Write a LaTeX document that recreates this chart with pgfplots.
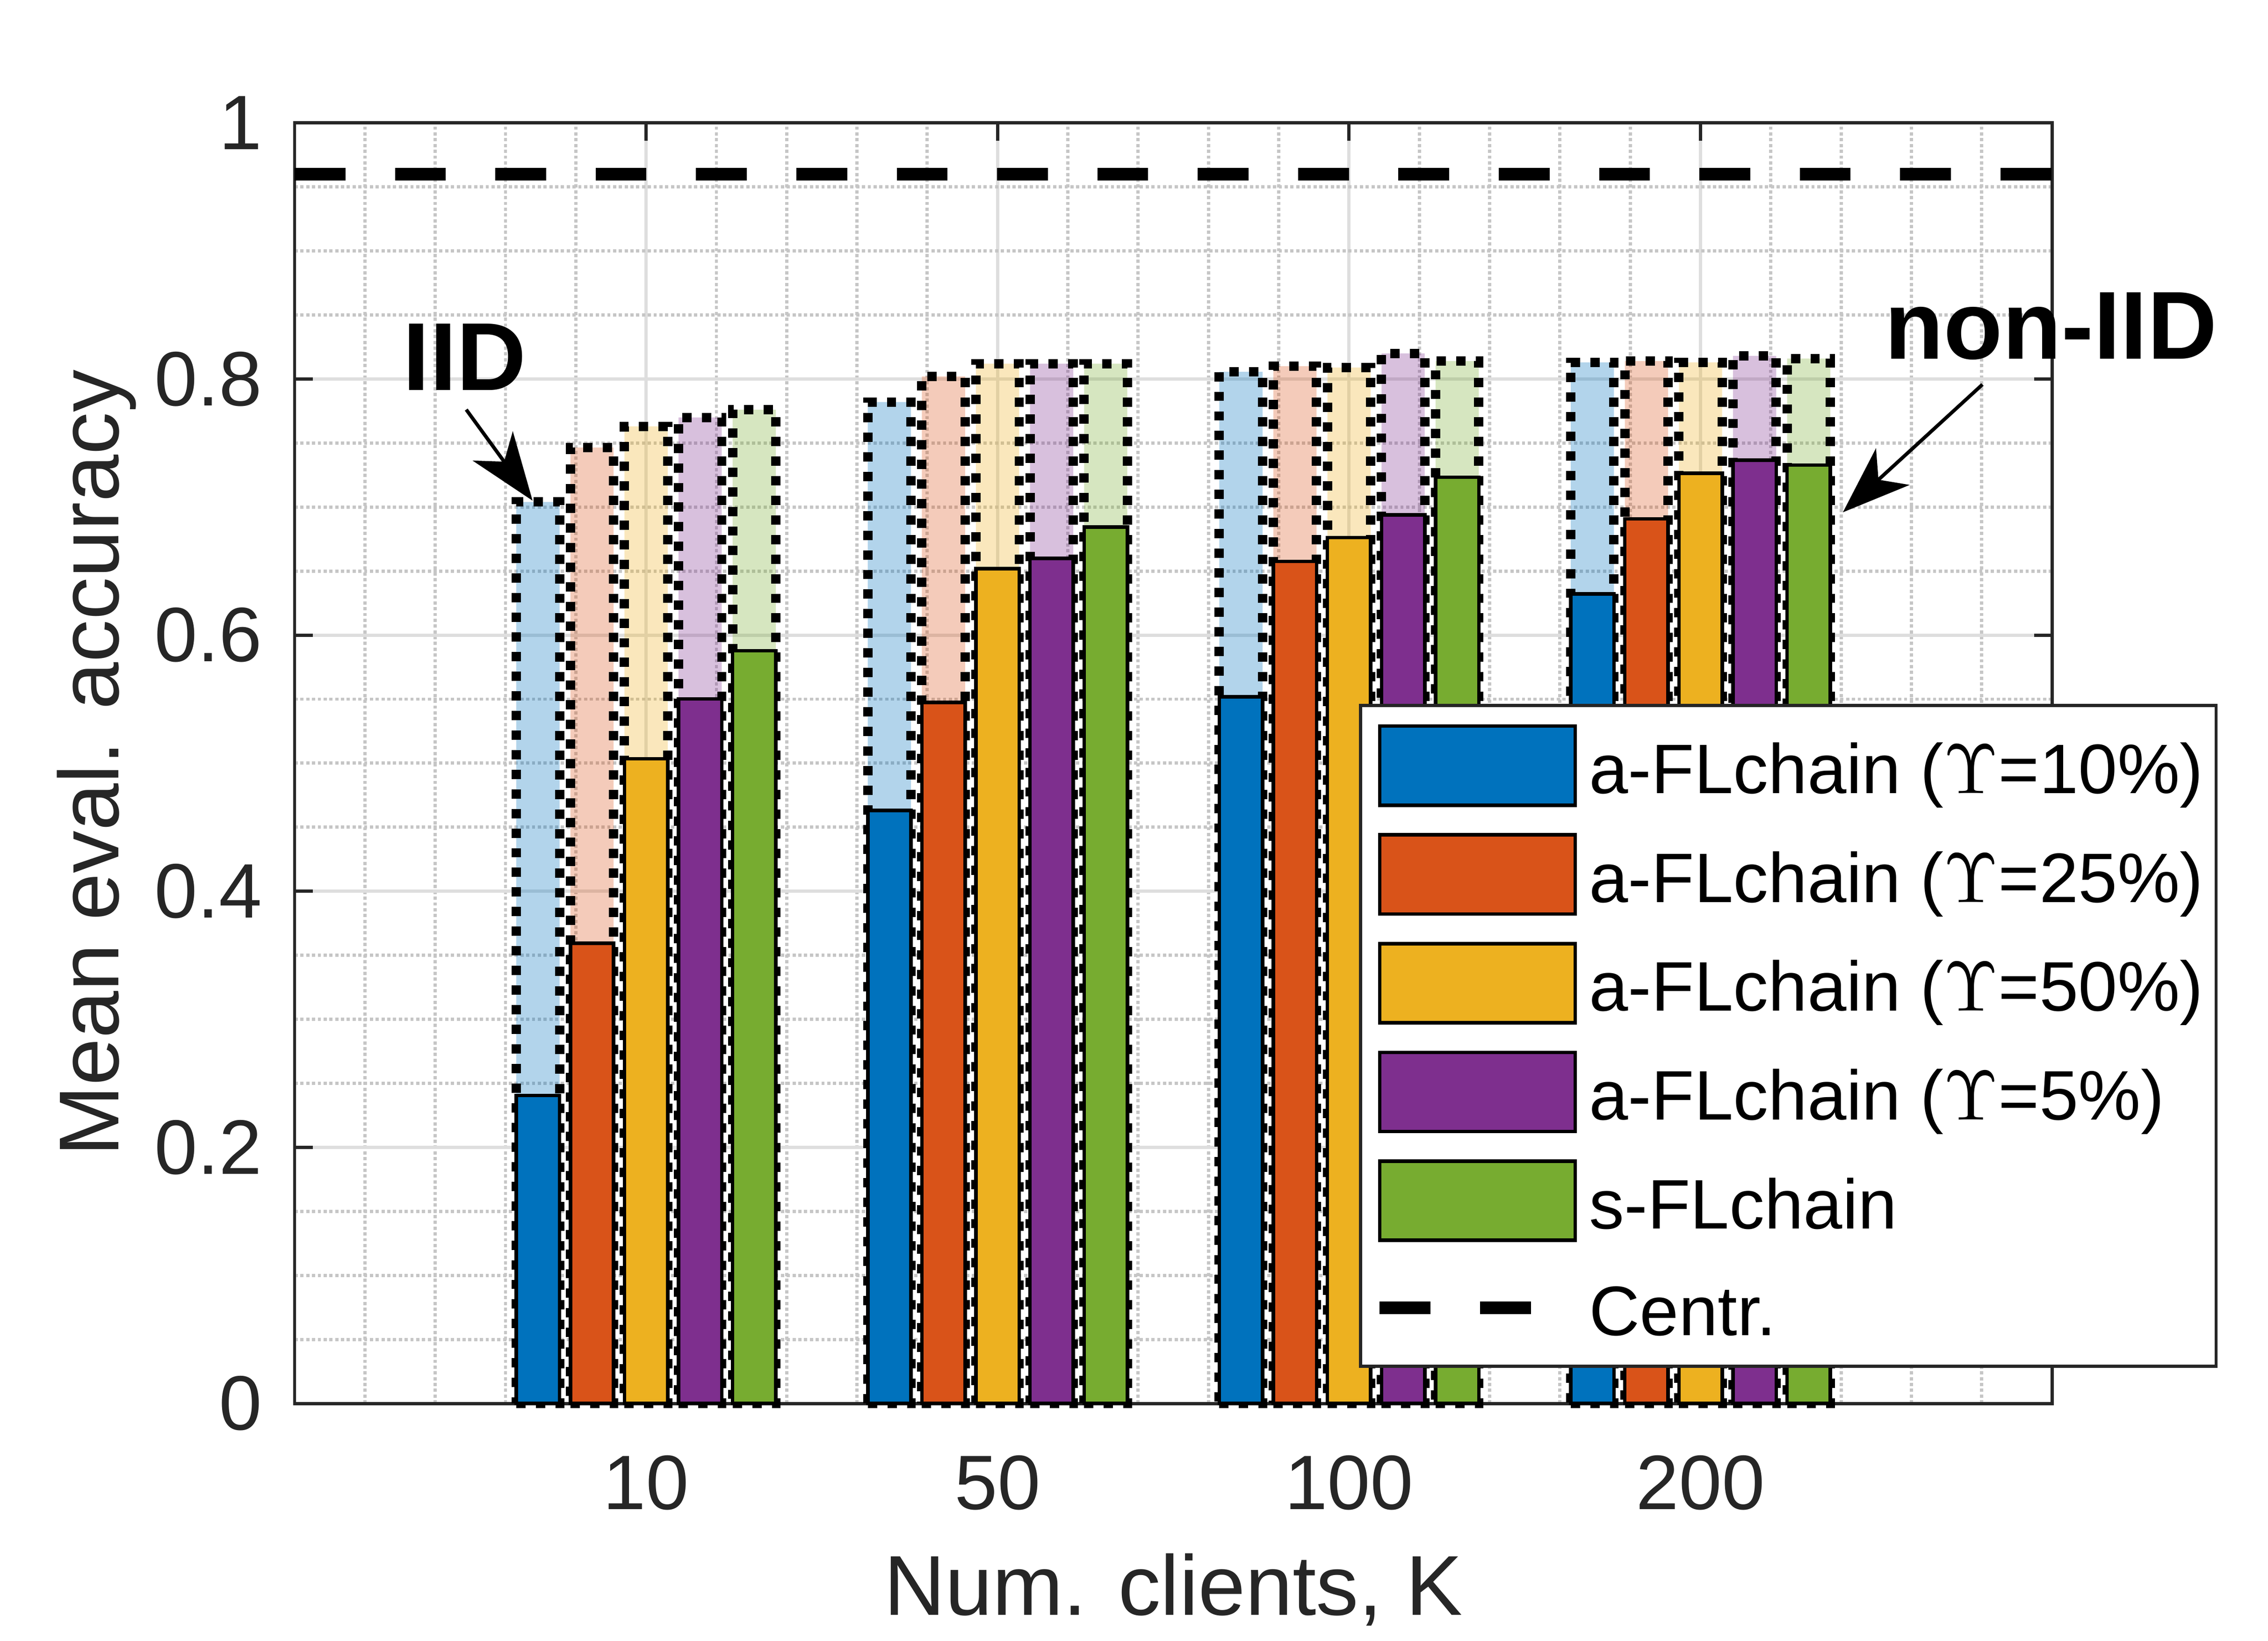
\documentclass[border=0pt]{standalone}
\usepackage{fontspec}
\setmainfont{Liberation Sans}
\usepackage{pgfplots}
\usepackage{pgfplotstable}
\pgfplotsset{compat=1.18}
\usetikzlibrary{arrows.meta}
\definecolor{c1}{HTML}{0072BD}
\definecolor{c2}{HTML}{D95319}
\definecolor{c3}{HTML}{EDB120}
\definecolor{c4}{HTML}{7E2F8E}
\definecolor{c5}{HTML}{77AC30}
\definecolor{axgray}{HTML}{262626}
\definecolor{majgrid}{HTML}{DEDEDE}
\definecolor{mingrid}{HTML}{C6C6C6}

% x: 0=10, 1=50, 2=100, 3=200 clients
\pgfplotstableread{
x   iidA   iidB   iidC   iidD   iidE   nA     nB     nC     nD     nE
0   0.704  0.7465 0.763  0.770  0.776  0.2405 0.3593 0.5034 0.5502 0.5878
1   0.782  0.802  0.812  0.812  0.812  0.4631 0.5474 0.6519 0.6599 0.6844
2   0.8056 0.810  0.809  0.820  0.814  0.5518 0.6575 0.6761 0.6939 0.7232
3   0.813  0.814  0.813  0.818  0.816  0.6321 0.6907 0.7264 0.7367 0.7327
}\datatable

\pgfplotsset{
  lightbar/.style={ybar, bar width=0.123, fill=#1, fill opacity=0.3,
    draw=black, draw opacity=1, line width=1.45pt,
    dash pattern=on 1.45pt off 1.6pt, forget plot},
  darkbar/.style={ybar, bar width=0.123, fill=#1, draw=black, line width=0.55pt,
    legend image code/.code={\draw[##1] (0pt,-6.15pt) rectangle (30.4pt,6.15pt);}},
  dashleg/.style={legend image code/.code={\draw[##1] (0pt,0pt) -- (23.6pt,0pt);}},
}

\begin{document}
\begin{tikzpicture}
\useasboundingbox (-45.80pt,-36.86pt) rectangle (306.79pt,218.17pt);
\begin{axis}[
  at={(0,0)}, anchor=south west,
  scale only axis, width=273.21pt, height=199.07pt,
  xmin=-1, xmax=4, ymin=0, ymax=1,
  xtick={0,1,2,3}, xticklabels={10,50,100,200},
  minor xtick={-0.8,-0.6,-0.4,-0.2,0.2,0.4,0.6,0.8,1.2,1.4,1.6,1.8,2.2,2.4,2.6,2.8,3.2,3.4,3.6,3.8},
  ytick={0,0.2,0.4,0.6,0.8,1},
  minor ytick={0.05,0.1,0.15,0.25,0.3,0.35,0.45,0.5,0.55,0.65,0.7,0.75,0.85,0.9,0.95},
  grid=both,
  major grid style={majgrid, line width=0.5pt},
  minor grid style={mingrid, line width=0.5pt, dash pattern=on 0.5pt off 0.4pt},
  axis line style={axgray, line width=0.5pt},
  tick style={axgray, line width=0.5pt},
  major tick length=2.8pt, minor tick length=0pt,
  tick align=inside,
  tick label style={font=\fontsize{12}{14}\selectfont, text=axgray, inner sep=0pt},
  /pgf/number format/assume math mode=true,
  xticklabel shift=7.9pt, yticklabel shift=4.9pt,
  xlabel={Num. clients, K}, ylabel={Mean eval. accuracy},
  label style={font=\fontsize{13.2}{15}\selectfont, text=axgray},
  xlabel style={at={(axis description cs:0.5,-0.1654)}, anchor=base},
  ylabel style={at={(axis description cs:-0.1001,0.5)}, anchor=base},
  clip=false,
  legend cell align=left,
  legend style={at={(axis description cs:0.6056,0.5464)}, anchor=north west,
    draw=axgray, line width=0.5pt, fill=white, inner xsep=2.0pt, inner ysep=2.95pt,
    /tikz/row sep=4.06pt, /tikz/column sep=1.9pt,
    font=\fontsize{10.9}{13}\selectfont,
    nodes={inner sep=0pt, text height=10.47pt, text depth=1.83pt}},
]
% IID (light, dotted outline)
\addplot[lightbar=c1, bar shift=-0.30769] table[x=x,y=iidA]{\datatable};
\addplot[lightbar=c2, bar shift=-0.15385] table[x=x,y=iidB]{\datatable};
\addplot[lightbar=c3, bar shift=0]        table[x=x,y=iidC]{\datatable};
\addplot[lightbar=c4, bar shift=0.15385]  table[x=x,y=iidD]{\datatable};
\addplot[lightbar=c5, bar shift=0.30769]  table[x=x,y=iidE]{\datatable};
% non-IID (solid)
\addplot[darkbar=c1, bar shift=-0.30769] table[x=x,y=nA]{\datatable};
\addlegendentry{a-FLchain ($\Upsilon$=10\%)}
\addplot[darkbar=c2, bar shift=-0.15385] table[x=x,y=nB]{\datatable};
\addlegendentry{a-FLchain ($\Upsilon$=25\%)}
\addplot[darkbar=c3, bar shift=0]        table[x=x,y=nC]{\datatable};
\addlegendentry{a-FLchain ($\Upsilon$=50\%)}
\addplot[darkbar=c4, bar shift=0.15385]  table[x=x,y=nD]{\datatable};
\addlegendentry{a-FLchain ($\Upsilon$=5\%)}
\addplot[darkbar=c5, bar shift=0.30769]  table[x=x,y=nE]{\datatable};
\addlegendentry{s-FLchain}
\addplot[black, line width=1.96pt, dash pattern=on 7.9pt off 7.7pt, dashleg]
  coordinates {(-1,0.96) (4,0.96)};
\addlegendentry{Centr.}

\node[font=\fontsize{15}{18}\selectfont\bfseries, anchor=base] at (axis cs:-0.516,0.7911) {IID};
\node[font=\fontsize{15}{18}\selectfont\bfseries, anchor=base] at (axis cs:3.997,0.8156) {non-IID};
\draw[line width=0.55pt, -{Stealth[length=10.5pt,width=7.7pt,inset=3pt]}]
  (axis cs:-0.5117,0.7761) -- (axis cs:-0.3230,0.7050);
\draw[line width=0.55pt, -{Stealth[length=10.5pt,width=7.7pt,inset=3pt]}]
  (axis cs:3.802,0.7957) -- (axis cs:3.405,0.6959);
\end{axis}
\end{tikzpicture}
\end{document}
